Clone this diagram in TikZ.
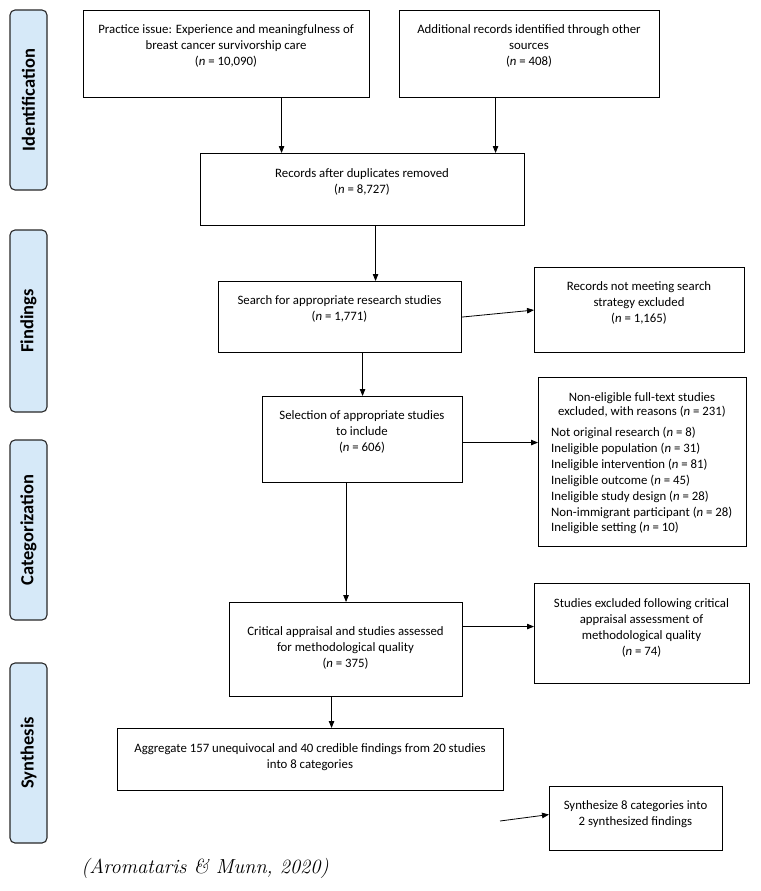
\documentclass[tikz,border=0pt]{standalone}
\usepackage{fontspec}
\setmainfont{Carlito}
\usetikzlibrary{arrows.meta,calc}
\definecolor{lblue}{RGB}{214,233,248}
\definecolor{lline}{RGB}{40,40,40}
\newcommand\citefont{\fontfamily{lmr}\fontshape{it}\selectfont}
\begin{document}
\begin{tikzpicture}[x=1pt,y=-1pt,
  box/.style={draw=black,line width=1.1pt,inner sep=0pt,anchor=north west},
  txt/.style={font=\fontsize{12.8}{16.3}\selectfont,align=center,inner sep=0pt,anchor=north},
  side/.style={draw=lline,line width=1.1pt,fill=lblue,rounded corners=5pt,minimum width=37pt,inner sep=0pt},
  sidetxt/.style={rotate=90,font=\fontsize{18.5}{20}\selectfont\bfseries,inner sep=0pt},
  arr/.style={line width=0.8pt,-{Triangle[length=7pt,width=5.5pt]}}]
\useasboundingbox (0,0) rectangle (760,891);
% side labels
\node[side,minimum height=180pt] (s1) at (28.5,100) {};
\node[sidetxt] (s1t) at (s1) {Identification};
\node[side,minimum height=182pt] (s2) at (28.5,321) {};
\node[sidetxt] (s2t) at (s2) {Findings};
\node[side,minimum height=180pt] (s3) at (28.5,530) {};
\node[sidetxt] (s3t) at (s3) {Categorization};
\node[side,minimum height=180pt] (s4) at (28.5,753) {};
\node[sidetxt] (s4t) at (s4) {Synthesis};
% boxes
\node[box,minimum width=286pt,minimum height=87pt] (b1) at (83,10) {};
\node[txt] (b1t) at (226,24) {Practice issue: Experience and meaningfulness of\\breast cancer survivorship care\\(\textit{n} = 10,090)};
\node[box,minimum width=260pt,minimum height=87pt] (b2) at (399,10) {};
\node[txt] (b2t) at (529,24) {Additional records identified through other\\sources\\(\textit{n} = 408)};
\node[box,minimum width=324pt,minimum height=72pt] (b3) at (200,153) {};
\node[txt] (b3t) at (362,168) {Records after duplicates removed\\(\textit{n} = 8,727)};
\node[box,minimum width=243pt,minimum height=71pt] (b4) at (218,281) {};
\node[txt] (b4t) at (339.5,295) {Search for appropriate research studies\\(\textit{n} = 1,771)};
\node[box,minimum width=210pt,minimum height=85pt] (b5) at (534,267) {};
\node[txt] (b5t) at (639,281) {Records not meeting search\\strategy excluded\\(\textit{n} = 1,165)};
\node[box,minimum width=200pt,minimum height=86pt] (b6) at (262,396) {};
\node[txt] (b6t) at (362,410) {Selection of appropriate studies\\to include\\(\textit{n} = 606)};
\node[box,minimum width=208pt,minimum height=169pt] (b7) at (538,377) {};
\node[txt,font=\fontsize{12.8}{14.5}\selectfont] (b7h) at (642,392) {Non-eligible full-text studies\\excluded, with reasons (\textit{n} = 231)};
\node[txt,align=left,anchor=north west,font=\fontsize{12.8}{15.9}\selectfont] (b7l) at (551,427) {Not original research (\textit{n} = 8)\\Ineligible population  (\textit{n} = 31)\\Ineligible intervention (\textit{n} = 81)\\Ineligible outcome  (\textit{n} = 45)\\Ineligible study design (\textit{n} = 28)\\Non-immigrant participant  (\textit{n} = 28)\\Ineligible setting (\textit{n} = 10)};
\node[box,minimum width=233pt,minimum height=94pt] (b8) at (229,602) {};
\node[txt] (b8t) at (345.5,626) {Critical appraisal and studies assessed\\for methodological quality\\(\textit{n} = 375)};
\node[box,minimum width=215pt,minimum height=100pt] (b9) at (534,583) {};
\node[txt] (b9t) at (641.5,598) {Studies excluded following critical\\appraisal assessment of\\methodological quality\\(\textit{n} = 74)};
\node[box,minimum width=386pt,minimum height=62pt] (b10) at (117,728) {};
\node[txt] (b10t) at (310,743) {Aggregate 157 unequivocal and 40 credible findings from 20 studies\\into 8 categories};
\node[box,minimum width=173pt,minimum height=64pt] (b11) at (549,786) {};
\node[txt] (b11t) at (635.5,800) {Synthesize 8 categories into\\2 synthesized findings};
% citation
\node[inner sep=0pt,font=\citefont\fontsize{20.3}{23}\selectfont] (cite) at (205,868) {(Aromataris \& Munn, 2020)};
% arrows
\draw[arr] ([xshift=55pt]b1.south) -- ([xshift=55pt]b1.south |- b3.north);
\draw[arr] ([xshift=-34pt]b2.south) -- ([xshift=-34pt]b2.south |- b3.north);
\draw[arr] ([xshift=13pt]b3.south) -- ([xshift=13pt]b3.south |- b4.north);
\draw[arr] (b4.east) -- (b5.west);
\draw[arr] (b6.north |- b4.south) -- (b6.north);
\draw[arr] ([yshift=-3pt]b6.east) -- ([yshift=-3pt]b6.east -| b7.west);
\draw[arr] (b8.north |- b6.south) -- (b8.north);
\draw[arr] ([yshift=23pt]b8.east) -- ([yshift=23pt]b8.east -| b9.west);
\draw[arr] ([xshift=-14.5pt]b8.south) -- ([xshift=-14.5pt]b8.south |- b10.north);
\coordinate (fa) at (500,821);
\draw[arr] (fa) -- ([yshift=4pt]b11.west);
\end{tikzpicture}
\end{document}
